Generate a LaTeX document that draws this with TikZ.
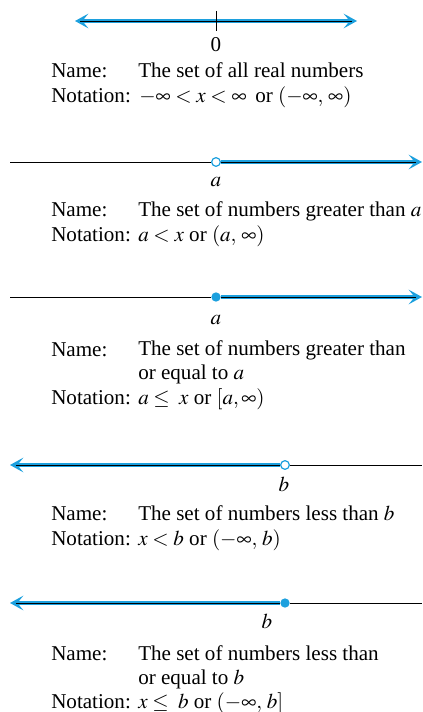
\documentclass[tikz,border=0pt]{standalone}
\usepackage{mathptmx}
\usepackage{fontspec}
\setmainfont{Liberation Serif}
\usetikzlibrary{arrows.meta,calc}

\definecolor{rayblue}{RGB}{28,160,222}

\begin{document}
\begin{tikzpicture}[x=0.75pt,y=-0.75pt,
    axis/.style={line width=0.7pt},
    ray/.style={rayblue,line width=2.8pt},
    barb/.tip={Stealth[length=10pt,width=11pt,inset=4.5pt]},
    opendot/.style={circle,draw=rayblue,fill=white,line width=0.9pt,minimum size=6.5pt,inner sep=0pt},
    fulldot/.style={circle,fill=rayblue,minimum size=7pt,inner sep=0pt},
    txt/.style={anchor=base west,inner sep=0pt,align=left,text height=0.68em,text depth=0.18em,
      font=\fontsize{15.8}{17.6}\selectfont}]
  \useasboundingbox (0,0) rectangle (422,712);

  % all real numbers
  \coordinate (l1) at (75,21);
  \coordinate (r1) at (357,21);
  \coordinate (zero) at (216,21);
  \draw[ray,barb-barb] (l1) -- (r1);
  \draw[axis] ($(l1)+(5,0)$) -- ($(r1)+(-5,0)$);
  \draw[axis] ($(zero)+(0,-10)$) -- ($(zero)+(0,10)$);
  \node[txt,anchor=base] (zl) at (216,52) {0};
  \node[txt] (n1) at (51,78) {Name:};
  \node[txt] (v1) at (138,78) {The set of all real numbers};
  \node[txt] (m1) at (51,103) {Notation:};
  \node[txt] (w1) at (139,103) {$-\infty < x < \infty$\, or $(-\infty,\, \infty)$};

  % greater than a
  \coordinate (l2) at (10,162);
  \coordinate (r2) at (422,162);
  \node[opendot] (pa) at (216,162) {};
  \draw[axis] (l2) -- (pa);
  \draw[ray,-barb] (pa) -- (r2);
  \draw[axis] (pa) -- ($(r2)+(-6,0)$);
  \node[txt,anchor=base] (al) at (216,187) {$a$};
  \node[txt] (n2) at (51,217) {Name:};
  \node[txt] (v2) at (138,217) {The set of numbers greater than $a$};
  \node[txt] (m2) at (51,242) {Notation:};
  \node[txt] (w2) at (138,242) {$a < x$ or $(a,\, \infty)$};

  % greater than or equal to a (two-line name, base = last line)
  \coordinate (l3) at (10,297);
  \coordinate (r3) at (422,297);
  \node[fulldot] (qa) at (216,297) {};
  \draw[axis] (l3) -- (qa);
  \draw[ray,-barb] (qa) -- (r3);
  \draw[axis] (qa) -- ($(r3)+(-6,0)$);
  \node[txt,anchor=base] (al2) at (216,325) {$a$};
  \node[txt] (n3) at (51,356) {Name:};
  \node[txt] (v3) at (138,379) {The set of numbers greater than\\or equal to $a$};
  \node[txt] (m3) at (51,404) {Notation:};
  \node[txt] (w3) at (138,404) {$a \leq\; x$ or $[a, \infty)$};

  % less than b
  \coordinate (l4) at (10,465);
  \coordinate (r4) at (422,465);
  \node[opendot] (pb) at (285,465) {};
  \draw[ray,-barb] (pb) -- (l4);
  \draw[axis] (pb) -- ($(l4)+(6,0)$);
  \draw[axis] (pb) -- (r4);
  \node[txt,anchor=base] (bl) at (284,491) {$b$};
  \node[txt] (n4) at (51,520) {Name:};
  \node[txt] (v4) at (138,520) {The set of numbers less than $b$};
  \node[txt] (m4) at (51,545) {Notation:};
  \node[txt] (w4) at (138,545) {$x < b$ or $(-\infty,\, b)$};

  % less than or equal to b
  \coordinate (l5) at (10,603);
  \coordinate (r5) at (422,603);
  \node[fulldot] (qb) at (285,603) {};
  \draw[ray,-barb] (qb) -- (l5);
  \draw[axis] (qb) -- ($(l5)+(6,0)$);
  \draw[axis] (qb) -- (r5);
  \node[txt,anchor=base] (bl2) at (267,628) {$b$};
  \node[txt] (n5) at (51,660) {Name:};
  \node[txt] (v5) at (138,684) {The set of numbers less than\\or equal to $b$};
  \node[txt] (m5) at (51,708) {Notation:};
  \node[txt] (w5) at (138,708) {$x \leq\; b$ or $(-\infty,\, b]$};
\end{tikzpicture}
\end{document}
